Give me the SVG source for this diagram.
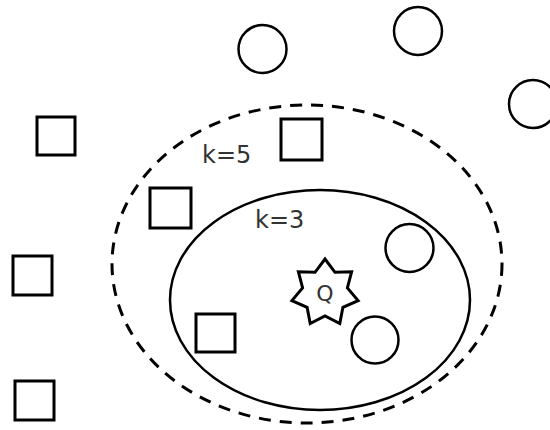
<svg xmlns="http://www.w3.org/2000/svg" width="550" height="430" viewBox="0 0 550 430">
<style>
.s{fill:none;stroke:#000;stroke-width:3}
.c{fill:none;stroke:#000;stroke-width:2.5}
.t{font-family:"DejaVu Sans",sans-serif;fill:#333}
</style>
<rect width="550" height="430" fill="#fff"/>
<g id="k5">
<ellipse cx="307" cy="264" rx="195" ry="159" fill="none" stroke="#000" stroke-width="3" stroke-dasharray="12 9"/>
<text class="t" x="202" y="163" font-size="24">k=5</text>
</g>
<g id="k3">
<ellipse cx="320" cy="300" rx="150" ry="110" class="c"/>
<text class="t" x="255" y="228" font-size="24">k=3</text>
</g>
<g id="q">
<polygon class="s" points="325,259 335,272.3 351.6,271.8 347.4,287.9 358.1,300.6 342.9,307.3 339.8,323.6 325,316 310.2,323.6 307.1,307.3 291.9,300.6 302.6,287.9 298.4,271.8 315,272.3"/>
<text class="t" x="325" y="301" font-size="22" text-anchor="middle">Q</text>
</g>
<g id="c1"><circle class="c" cx="262.5" cy="49" r="24"/></g>
<g id="c2"><circle class="c" cx="418" cy="31" r="24"/></g>
<g id="c3"><circle class="c" cx="533" cy="104" r="24"/></g>
<g id="c4"><circle class="c" cx="409.5" cy="248" r="24"/></g>
<g id="c5"><circle class="c" cx="375" cy="340" r="23.5"/></g>
<g id="s1"><rect class="s" x="37" y="117" width="38" height="38"/></g>
<g id="s2"><rect class="s" x="13" y="256" width="39" height="39"/></g>
<g id="s3"><rect class="s" x="15" y="381" width="39" height="39"/></g>
<g id="s4"><rect class="s" x="281" y="119" width="41" height="41"/></g>
<g id="s5"><rect class="s" x="150" y="188" width="41" height="40"/></g>
<g id="s6"><rect class="s" x="196" y="314" width="39" height="38"/></g>
</svg>
